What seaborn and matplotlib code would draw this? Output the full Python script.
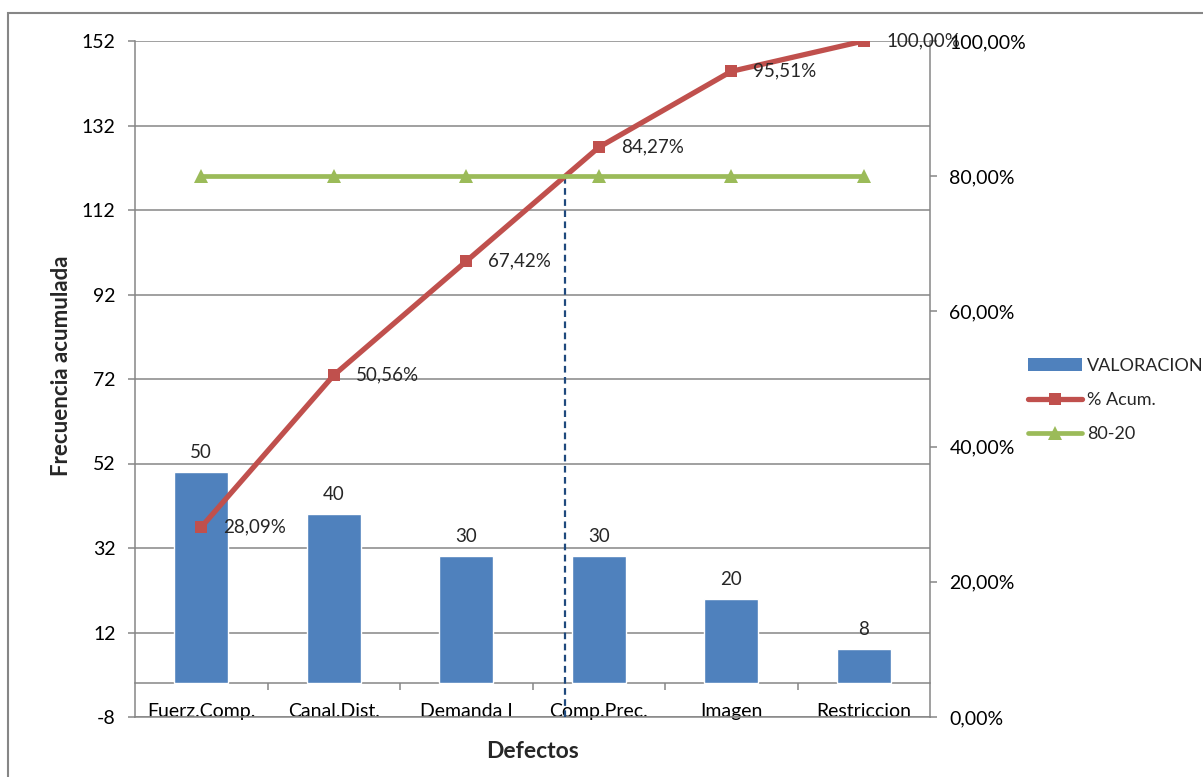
import numpy as np
import pandas as pd
import matplotlib
matplotlib.use("Agg")
import matplotlib.pyplot as plt
import seaborn as sns
from matplotlib.patches import Rectangle, Patch
from matplotlib.lines import Line2D

# Pareto data
categorias = ["Fuerz.Comp.", "Canal.Dist.", "Demanda I", "Comp.Prec.", "Imagen", "Restriccion"]
valoracion = [50, 40, 30, 30, 20, 8]
pct_acum = [28.09, 50.56, 67.42, 84.27, 95.51, 100.00]
linea_80_20 = [80, 80, 80, 80, 80, 80]
ticks_izq = [-8, 12, 32, 52, 72, 92, 112, 132, 152]
ticks_der = [0, 20, 40, 60, 80, 100]

sns.set_style("white")
plt.rcParams["font.family"] = ["Lato", "DejaVu Sans"]

W, H = 1203, 777
GRAY = "#868686"
AZUL = "#4F81BD"
ROJO = "#C0504D"
VERDE = "#9BBB59"

fig = plt.figure(figsize=(W / 100, H / 100), dpi=100)
ax = fig.add_axes([135 / W, 60 / H, 795 / W, 676 / H])

pos = np.arange(len(categorias))
df = pd.DataFrame({"Defecto": categorias, "VALORACION": valoracion})

sns.barplot(data=df, x="Defecto", y="VALORACION", ax=ax, color=AZUL,
            saturation=1, width=0.41, zorder=2)
ax.bar_label(ax.containers[0], labels=[str(v) for v in valoracion],
             padding=8, fontsize=13.5)

ax.set_xlim(-0.5, len(categorias) - 0.5)
ax.set_ylim(ticks_izq[0], ticks_izq[-1])
ax.set_yticks(ticks_izq)
ax.set_yticklabels([str(t) for t in ticks_izq])
ax.grid(axis="y", color=GRAY, lw=1.1)
ax.grid(axis="x", visible=False)
ax.set_axisbelow(True)

for s in ["top", "right"]:
    ax.spines[s].set_visible(False)
for s in ["left", "bottom"]:
    ax.spines[s].set_color(GRAY)
    ax.spines[s].set_linewidth(1.1)

ax.tick_params(axis="y", left=True, length=5, width=1.1, color=GRAY,
               pad=9, labelsize=14, labelcolor="black")
ax.tick_params(axis="x", bottom=False, length=0, pad=0, labelsize=14,
               labelcolor="black")
for lbl in ax.get_xticklabels():
    lbl.set_va("baseline")

# category axis crossing at zero, with separators between categories
loc0 = (0 - ticks_izq[0]) / (ticks_izq[-1] - ticks_izq[0])
sec = ax.secondary_xaxis(loc0)
sec.set_xticks(pos[:-1] + 0.5)
sec.set_xticklabels([])
sec.tick_params(axis="x", bottom=True, direction="out", length=5, width=1.1,
                color=GRAY)
sec.spines["bottom"].set_color(GRAY)
sec.spines["bottom"].set_linewidth(1.1)

ax.set_xlabel("Defectos", fontweight="bold", fontsize=16.5)
ax.xaxis.set_label_coords(0.5, -34 / 676)
ax.xaxis.label.set_va("center")
ax.set_ylabel("Frecuencia acumulada", fontweight="bold", fontsize=16)
ax.yaxis.set_label_coords(-(135 - 62) / 795, (717 - 366) / 676)
ax.yaxis.label.set_va("center")

# cumulative percentage axis
ax2 = ax.twinx()
sns.lineplot(x=pos, y=pct_acum, ax=ax2, color=ROJO, lw=3.8, marker="s",
             markersize=8.5, markeredgewidth=0, legend=False, zorder=3)
sns.lineplot(x=pos, y=linea_80_20, ax=ax2, color=VERDE, lw=3.4, marker="^",
             markersize=9.5, markeredgewidth=0, legend=False, zorder=4)

x_corte = np.interp(80, pct_acum, pos)
ax2.vlines(x_corte, 0, 80, colors="#1F497D", linestyles=(0, (3, 2)), lw=1.6,
           zorder=2)

for i, v in enumerate(pct_acum):
    ax2.annotate(f"{v:.2f}".replace(".", ",") + "%", (i, v), xytext=(16, 0),
                 textcoords="offset points", ha="left", va="center",
                 fontsize=13.5, annotation_clip=False)

ax2.set_ylim(ticks_der[0], ticks_der[-1])
ax2.set_yticks(ticks_der)
ax2.set_yticklabels([f"{t:.2f}".replace(".", ",") + "%" for t in ticks_der])
ax2.set_xlim(-0.5, len(categorias) - 0.5)
for s in ["top", "left", "bottom"]:
    ax2.spines[s].set_visible(False)
ax2.spines["right"].set_color(GRAY)
ax2.spines["right"].set_linewidth(1.1)
ax2.tick_params(axis="y", right=True, length=5, width=1.1, color=GRAY,
                pad=9, labelsize=14, labelcolor="black")
ax2.set_ylabel("")
ax2.grid(False)

handles = [
    Patch(facecolor=AZUL, edgecolor="none"),
    Line2D([], [], color=ROJO, lw=3.8, marker="s", markersize=8.5, markeredgewidth=0),
    Line2D([], [], color=VERDE, lw=3.4, marker="^", markersize=9.5, markeredgewidth=0),
]
fig.legend(handles, ["VALORACION", "% Acum.", "80-20"], loc="center left",
           bbox_to_anchor=(1028 / W, 1 - 400 / H), frameon=False, fontsize=13,
           handlelength=3.0, handletextpad=0.25, labelspacing=1.0,
           borderpad=0, borderaxespad=0)

# chart border
fig.add_artist(Rectangle((8 / W, -0.05), 1.1, (H - 13) / H + 0.05,
                         transform=fig.transFigure, fill=False, ec=GRAY,
                         lw=1.5))

fig.savefig("out.png", dpi=100)
